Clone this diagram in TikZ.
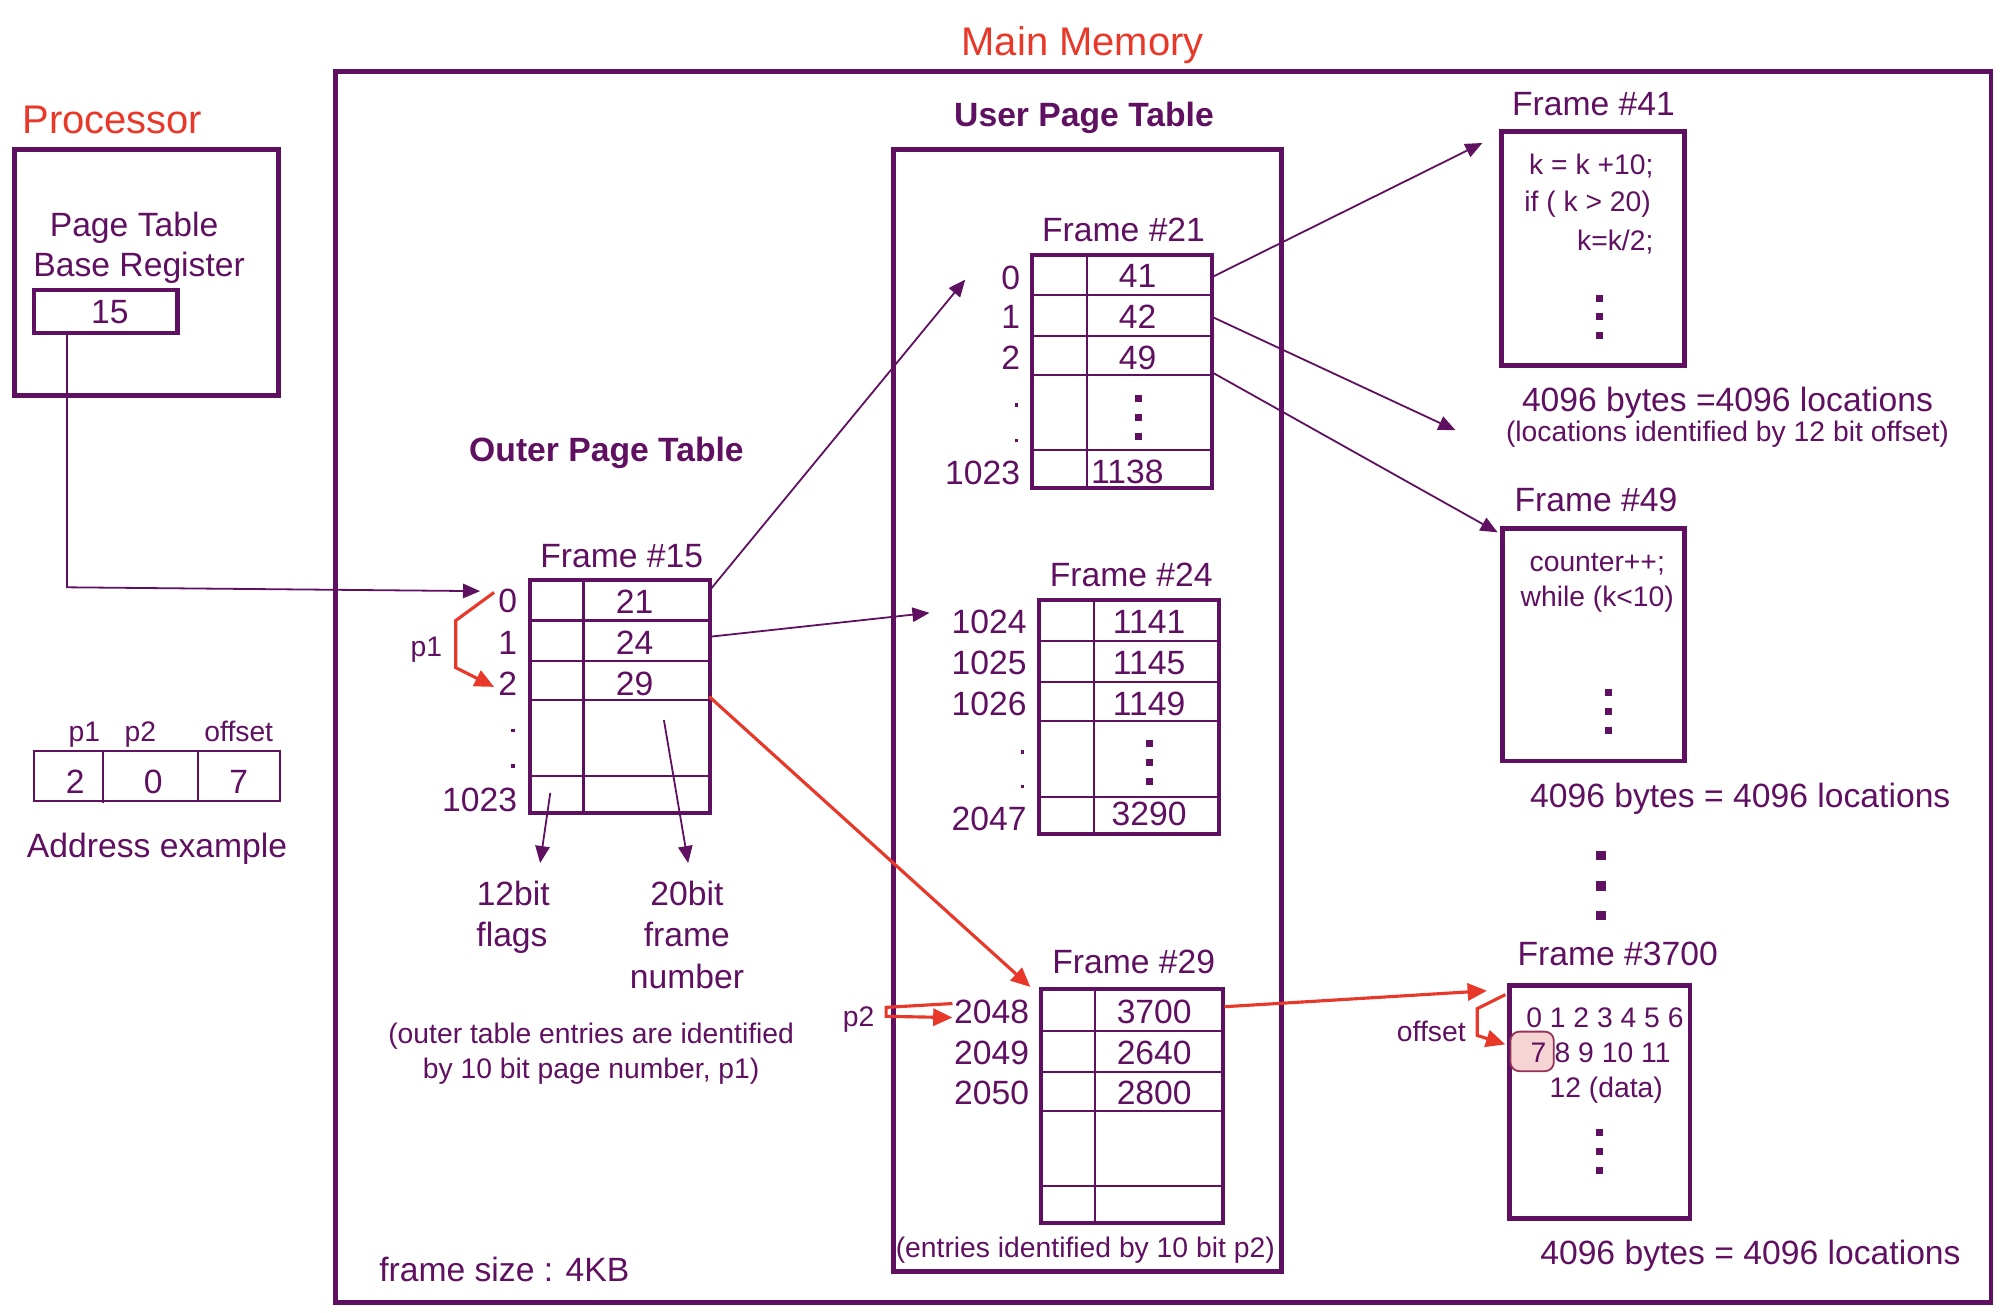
\documentclass[tikz,border=0pt]{standalone}
\usepackage{fontspec}
\setmainfont{Liberation Sans}
\usetikzlibrary{arrows.meta,calc}
\definecolor{pur}{RGB}{96,16,96}
\definecolor{mred}{RGB}{232,56,42}
\definecolor{pinkf}{RGB}{246,212,212}
\definecolor{hlc}{RGB}{150,50,90}
\newcommand\fm{\fontsize{7.5}{9}\selectfont}
\newcommand\fs{\fontsize{6.3}{7.6}\selectfont}
\newcommand\ft{\fontsize{8.9}{10.7}\selectfont}
\newcommand\sqd[3]{\fill[pur] (#1-#3/2,#2-#3/2) rectangle (#1+#3/2,#2+#3/2);}
\begin{document}
\begin{tikzpicture}[x=0.01cm,y=-0.01cm,
  every node/.style={inner sep=0pt, outer sep=0pt, text=pur},
  box/.style={draw=pur, line width=1.1pt},
  tbox/.style={draw=pur, line width=0.9pt},
  grid/.style={draw=pur, line width=0.45pt},
  conn/.style={draw=pur, line width=0.4pt, -{Triangle[length=3.8pt,width=3.2pt]}},
  rconn/.style={draw=mred, line width=0.7pt, -{Triangle[length=4.3pt,width=3.8pt]}},
  lbl/.style={font=\fm, text height=5.37pt, text depth=0pt},
  small/.style={font=\fs, text height=4.51pt, text depth=0pt},
  title/.style={font=\ft, text=mred, text height=6.37pt, text depth=0pt},
  head/.style={font=\fm\bfseries, text height=5.37pt, text depth=0pt},
]
\useasboundingbox (0,0) rectangle (1568,1028);

% ---------- Processor ----------
\node[title] (tProc) at (88,93) {Processor};
\node[box, minimum width=2.065cm, minimum height=1.93cm] (proc) at (114.75,213.5) {};
\node[lbl] (ptl1) at (105,176) {Page Table};
\node[lbl] (ptl2) at (109,207.5) {Base Register};
\node[tbox, minimum width=1.12cm, minimum height=0.33cm] (r15) at (83,244) {};
\node[lbl] (v15) at (86,244) {15};

% ---------- Address example ----------
\node[grid, minimum width=1.92cm, minimum height=0.39cm] (addr) at (123,607.5) {};
\draw[grid] (81,588) -- (81,629);
\draw[grid] (155,588) -- (155,627);
\node[small] (ap1) at (66,573) {p1};
\node[small] (ap2) at (110,573) {p2};
\node[small] (aoff) at (187,573) {offset};
\node[lbl] (av1) at (59,612) {2};
\node[lbl] (av2) at (120,612) {0};
\node[lbl] (av3) at (187,612) {7};
\node[lbl] (aex) at (123,662) {Address example};

% ---------- Main memory ----------
\node[title] (tMain) at (848,32) {Main Memory};
\node[box, minimum width=12.96cm, minimum height=9.635cm] (mm) at (911,538.25) {};
\node[lbl] (fsz) at (395,994.6) {frame size : 4KB};

% ---------- Outer page table (Frame 15) ----------
\node[head] (optl) at (475,352) {Outer Page Table};
\node[lbl] (f15t) at (487,435) {Frame \#15};
\node[tbox, minimum width=1.41cm, minimum height=1.83cm] (t15) at (485.5,545.5) {};
\draw[grid] (457,454) -- (457,637);
\foreach \yy in {486,518,548,608} \draw[grid] (415,\yy) -- (556,\yy);
\node[lbl] (o15a) at (497,471) {21};
\node[lbl] (o15b) at (497,503) {24};
\node[lbl] (o15c) at (497,535) {29};
\node[lbl, anchor=east] (l15a) at (405,470) {0};
\node[lbl, anchor=east] (l15b) at (405,503) {1};
\node[lbl, anchor=east] (l15c) at (405,535) {2};
\node[lbl, anchor=east] (l15d) at (405,626) {1023};
\sqd{402}{572}{2.8}
\sqd{402}{600}{2.8}
\node[small] (lp1) at (334,506.5) {p1};
\node[lbl] (fl1) at (402,700) {12bit};
\node[lbl] (fl2) at (401,732) {flags};
\node[lbl] (fn1) at (538,700) {20bit};
\node[lbl] (fn2) at (538,732) {frame};
\node[lbl] (fn3) at (538,765) {number};
\node[small] (oc1) at (463,809) {(outer table entries are identified};
\node[small] (oc2) at (463,836.5) {by 10 bit page number, p1)};

% ---------- User page table ----------
\node[head] (uptl) at (849,90) {User Page Table};
\node[box, minimum width=3.042cm, minimum height=8.782cm] (upt) at (851.7,556.3) {};

% Frame 21
\node[lbl] (f21t) at (880,180) {Frame \#21};
\node[tbox, minimum width=1.41cm, minimum height=1.82cm] (t21) at (878.5,291) {};
\draw[grid] (851,200) -- (851,382);
\foreach \yy in {231,263,294,352.5} \draw[grid] (808,\yy) -- (949,\yy);
\node[lbl] (v21a) at (891,216) {41};
\node[lbl] (v21b) at (891,248) {42};
\node[lbl] (v21c) at (891,280) {49};
\node[lbl] (v21d) at (883,369) {1138};
\sqd{892}{312.5}{5.5}
\sqd{892}{327}{5.5}
\sqd{892}{342}{5.5}
\node[lbl, anchor=east] (l21a) at (799,217) {0};
\node[lbl, anchor=east] (l21b) at (799,248) {1};
\node[lbl, anchor=east] (l21c) at (799,280) {2};
\node[lbl, anchor=east] (l21d) at (799,370) {1023};
\sqd{796}{317}{2.8}
\sqd{796}{345}{2.8}

% Frame 24
\node[lbl] (f24t) at (886,450) {Frame \#24};
\node[tbox, minimum width=1.41cm, minimum height=1.83cm] (t24) at (884.5,561.5) {};
\draw[grid] (857,470) -- (857,653);
\foreach \yy in {502,534,565,624} \draw[grid] (814,\yy) -- (955,\yy);
\node[lbl] (v24a) at (900,487) {1141};
\node[lbl] (v24b) at (900,519) {1145};
\node[lbl] (v24c) at (900,551) {1149};
\node[lbl] (v24d) at (900,637) {3290};
\sqd{900}{582}{5.5}
\sqd{900}{597}{5.5}
\sqd{900}{612}{5.5}
\node[lbl, anchor=east] (l24a) at (804,487) {1024};
\node[lbl, anchor=east] (l24b) at (804,519) {1025};
\node[lbl, anchor=east] (l24c) at (804,551) {1026};
\node[lbl, anchor=east] (l24d) at (804,641) {2047};
\sqd{801}{589}{2.8}
\sqd{801}{616}{2.8}

% Frame 29
\node[lbl] (f29t) at (888,753) {Frame \#29};
\node[tbox, minimum width=1.43cm, minimum height=1.83cm] (t29) at (886.5,866.5) {};
\draw[grid] (858,775) -- (858,958);
\foreach \yy in {807.5,839.5,870,929} \draw[grid] (815,\yy) -- (958,\yy);
\node[lbl] (v29a) at (904,792) {3700};
\node[lbl] (v29b) at (904,824) {2640};
\node[lbl] (v29c) at (904,856) {2800};
\node[lbl, anchor=east] (l29a) at (806,792) {2048};
\node[lbl, anchor=east] (l29b) at (806,824.5) {2049};
\node[lbl, anchor=east] (l29c) at (806,856) {2050};
\node[small] (lp2) at (672.5,796) {p2};
\node[small] (ec) at (850,977) {(entries identified by 10 bit p2)};

% ---------- Frame 41 ----------
\node[lbl] (f41t) at (1248,81) {Frame \#41};
\node[box, minimum width=1.43cm, minimum height=1.83cm] (b41) at (1247.5,194.5) {};
\node[small, anchor=east] (c41a) at (1295,129) {k = k +10;};
\node[small, anchor=east] (c41b) at (1293,158) {if ( k > 20)};
\node[small, anchor=east] (c41c) at (1295,188) {k=k/2;};
\sqd{1253}{233.5}{5.5}
\sqd{1253}{248}{5.5}
\sqd{1253}{263}{5.5}
\node[lbl] (s41a) at (1353,313) {4096 bytes =4096 locations};
\node[small] (s41b) at (1353,338) {(locations identified by 12 bit offset)};

% ---------- Frame 49 ----------
\node[lbl] (f49t) at (1250,391.5) {Frame \#49};
\node[box, minimum width=1.42cm, minimum height=1.82cm] (b49) at (1248,505) {};
\node[small] (c49a) at (1251,440) {counter++;};
\node[small] (c49b) at (1251,467) {while (k<10)};
\sqd{1260}{542.5}{5.5}
\sqd{1260}{557.5}{5.5}
\sqd{1260}{572.5}{5.5}
\node[lbl] (s49) at (1363,623) {4096 bytes = 4096 locations};
\sqd{1254}{670}{7.5}
\sqd{1254}{694}{7.5}
\sqd{1254}{717}{7.5}

% ---------- Frame 3700 ----------
\node[lbl] (f37t) at (1267,747) {Frame \#3700};
\node[box, minimum width=1.416cm, minimum height=1.82cm] (b37) at (1252.8,863) {};
\draw[fill=pinkf, draw=hlc, line width=0.4pt, rounded corners=2pt] (1183,808) rectangle (1217,839);
\node[small] (c37a) at (1257,797) {0 1 2 3 4 5 6};
\node[small] (c37b) at (1205,824) {7};
\node[small] (c37c) at (1263,824) {8 9 10 11};
\node[small] (c37d) at (1258,852) {12 (data)};
\sqd{1252.6}{887}{5.5}
\sqd{1252.6}{902}{5.5}
\sqd{1252.6}{917}{5.5}
\node[lbl] (s37) at (1371,981) {4096 bytes = 4096 locations};
\node[small] (loff) at (1121,808) {offset};

% ---------- Connectors ----------
\coordinate (ptbrS) at (52.5,261);
\coordinate (ptbrC) at (52.5,460);
\coordinate (o15in) at (376,463);
\draw[conn] (ptbrS) -- (ptbrC) -- (o15in);

% p1 bracket
\coordinate (p1a) at (387,464);
\coordinate (p1b) at (357,486);
\coordinate (p1c) at (357,523);
\coordinate (p1d) at (387,538);
\draw[rconn] (p1a) -- (p1b) -- (p1c) -- (p1d);

% outer -> user page table frames
\coordinate (o15r0) at (557,461);
\coordinate (f21in) at (756,219);
\draw[conn] (o15r0) -- (f21in);
\coordinate (o15r1) at (557,498.6);
\coordinate (f24in) at (728,480);
\draw[conn] (o15r1) -- (f24in);
\coordinate (o15r2) at (555.5,545.6);
\coordinate (f29in) at (807,773);
\draw[rconn] (o15r2) -- (f29in);

% p2 bracket
\coordinate (p2a) at (746,786);
\coordinate (p2b) at (694,789);
\coordinate (p2c) at (694,796);
\coordinate (p2d) at (746,797);
\draw[rconn] (p2a) -- (p2b) -- (p2c) -- (p2d);

% frame 21 -> data frames
\coordinate (t21r0) at (950,216.7);
\coordinate (b41in) at (1161,112);
\draw[conn] (t21r0) -- (b41in);
\coordinate (t21r1) at (950,248.5);
\coordinate (x42in) at (1140,337);
\draw[conn] (t21r1) -- (x42in);
\coordinate (t21r2) at (950,292);
\coordinate (b49in) at (1173,417);
\draw[conn] (t21r2) -- (b49in);

% frame 29 -> frame 3700
\coordinate (t29r0) at (959,788.5);
\coordinate (b37in) at (1164.6,776);
\draw[rconn] (t29r0) -- (b37in);

% offset bracket
\coordinate (ofa) at (1179,779);
\coordinate (ofb) at (1157,790);
\coordinate (ofc) at (1157,811);
\coordinate (ofd) at (1179,818);
\draw[rconn] (ofa) -- (ofb) -- (ofc) -- (ofd);

% flag / frame number pointers
\coordinate (flS) at (431,621);
\coordinate (flE) at (423,676);
\draw[conn] (flS) -- (flE);
\coordinate (fnS) at (520,564);
\coordinate (fnE) at (539,676);
\draw[conn] (fnS) -- (fnE);
\end{tikzpicture}
\end{document}
